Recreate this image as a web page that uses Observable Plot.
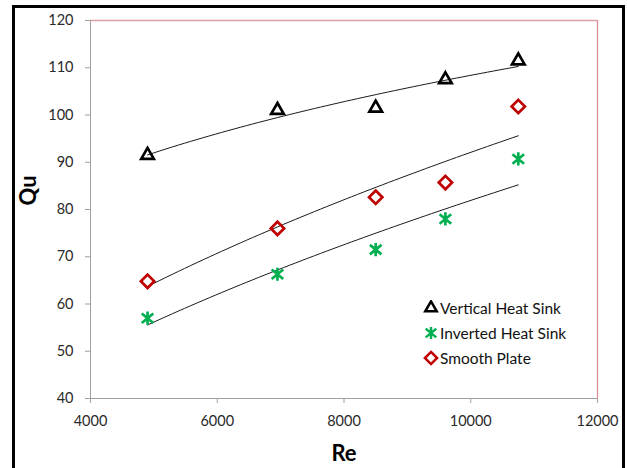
<!DOCTYPE html>
<html><head><meta charset="utf-8">
<script src="https://cdn.jsdelivr.net/npm/d3@7"></script>
<script src="https://cdn.jsdelivr.net/npm/@observablehq/plot@0.6"></script>
<style>
body{margin:0;background:#fff;font-family:Lato,sans-serif}
#wrap{position:relative;width:627px;height:468px;overflow:hidden;background:#fff}
#border{position:absolute;left:12px;top:5px;width:613px;height:490px;border:3px solid #000;box-sizing:border-box;pointer-events:none}
#chart{position:absolute;left:0;top:0}
#legend{position:absolute;left:423px;top:295px;font-family:Lato,sans-serif;font-size:15.5px;color:#111}
.row{display:flex;align-items:center;height:25px}
.row svg{width:16px;height:16px;margin-right:1px}
</style></head>
<body><div id="wrap"><div id="chart"></div><div id="legend"></div><div id="border"></div></div>
<script>
const re = [4900, 6950, 8500, 9600, 10750];
const vertical = [91.5, 101, 101.5, 107.5, 111.5];
const inverted = [57, 66.3, 71.5, 78, 90.7];
const smooth = [64.8, 76, 82.6, 85.7, 101.8];
const seriesNames = ["Vertical Heat Sink", "Inverted Heat Sink", "Smooth Plate"];
const seriesColors = ["#000000", "#00b050", "#c00000"];
const xTicks = [4000, 6000, 8000, 10000, 12000];
const yTicks = [40, 50, 60, 70, 80, 90, 100, 110, 120];

// Excel-like star marker: vertical bar plus an X
const excelStar = {
  draw(ctx, size) {
    const r = Math.sqrt(size) * 0.62;
    const u = r * 0.88, t = r * 0.72;
    ctx.moveTo(0, -r); ctx.lineTo(0, r);
    ctx.moveTo(-u, -t); ctx.lineTo(u, t);
    ctx.moveTo(-u, t); ctx.lineTo(u, -t);
  }
};
const seriesSymbols = [d3.symbolTriangle2, excelStar, d3.symbolDiamond2];

const seriesValues = [vertical, inverted, smooth];
const points = [];
seriesValues.forEach((vals, i) => vals.forEach((v, j) => points.push({series: seriesNames[i], x: re[j], y: v})));

// power-law trendline (least squares in log space), like Excel's power trendline
function powerFit(xs, ys) {
  const lx = xs.map(Math.log), ly = ys.map(Math.log);
  const mx = d3.mean(lx), my = d3.mean(ly);
  const b = d3.sum(lx, (v, i) => (v - mx) * (ly[i] - my)) / d3.sum(lx, v => (v - mx) ** 2);
  const a = Math.exp(my - b * mx);
  return x => a * Math.pow(x, b);
}
const curves = [];
seriesValues.forEach((vals, i) => {
  const f = powerFit(re, vals);
  const x0 = d3.min(re), x1 = d3.max(re);
  d3.range(0, 61).forEach(k => { const x = x0 + (x1 - x0) * k / 60; curves.push({series: seriesNames[i], x, y: f(x)}); });
});

const axisGray = "#a0a0a0";
const chart = Plot.plot({
  width: 627, height: 468,
  marginLeft: 90, marginRight: 30, marginTop: 20, marginBottom: 70,
  x: {domain: [4000, 12000]},
  y: {domain: [40, 120]},
  symbol: {domain: seriesNames, range: seriesSymbols},
  color: {domain: seriesNames, range: seriesColors},
  style: {fontFamily: "Lato, sans-serif", fontSize: "14.5px", color: "#2a2a2a", background: "transparent", overflow: "visible"},
  marks: [
    Plot.ruleY([120], {stroke: "#e2a0a8", strokeWidth: 1.5}),
    Plot.ruleX([12000], {stroke: "#d98890", strokeWidth: 1.2}),
    Plot.axisX({ticks: xTicks, tickSize: 5, tickPadding: 12, tickFormat: d3.format("d"), label: null, stroke: axisGray}),
    Plot.axisY({ticks: yTicks, tickSize: 5, tickPadding: 12, tickFormat: d3.format("d"), label: null, stroke: axisGray}),
    Plot.ruleX([4000], {stroke: axisGray}),
    Plot.ruleY([40], {stroke: axisGray}),
    Plot.line(curves, {x: "x", y: "y", z: "series", stroke: "#1a1a1a", strokeWidth: 1}),
    Plot.dot(points, {x: "x", y: "y", symbol: "series", stroke: "series", r: 6, strokeWidth: 2.7}),
    Plot.text(["Re"], {frameAnchor: "bottom", dy: 55, lineAnchor: "middle", fontSize: 22, fontWeight: "bold", fill: "#000"}),
    Plot.text(["Qu"], {frameAnchor: "left", dx: -62, dy: -4, rotate: -90, lineAnchor: "middle", fontSize: 22, fontWeight: "bold", fill: "#000"})
  ]
});
document.getElementById("chart").append(chart);

const legend = document.getElementById("legend");
seriesNames.forEach((name, i) => {
  const row = document.createElement("div");
  row.className = "row";
  const p = d3.symbol(seriesSymbols[i], 95)();
  row.innerHTML = `<svg viewBox="-8 -8 16 16"><path d="${p}" fill="none" stroke="${seriesColors[i]}" stroke-width="2.5"/></svg><span>${name}</span>`;
  legend.append(row);
});
</script></body></html>
